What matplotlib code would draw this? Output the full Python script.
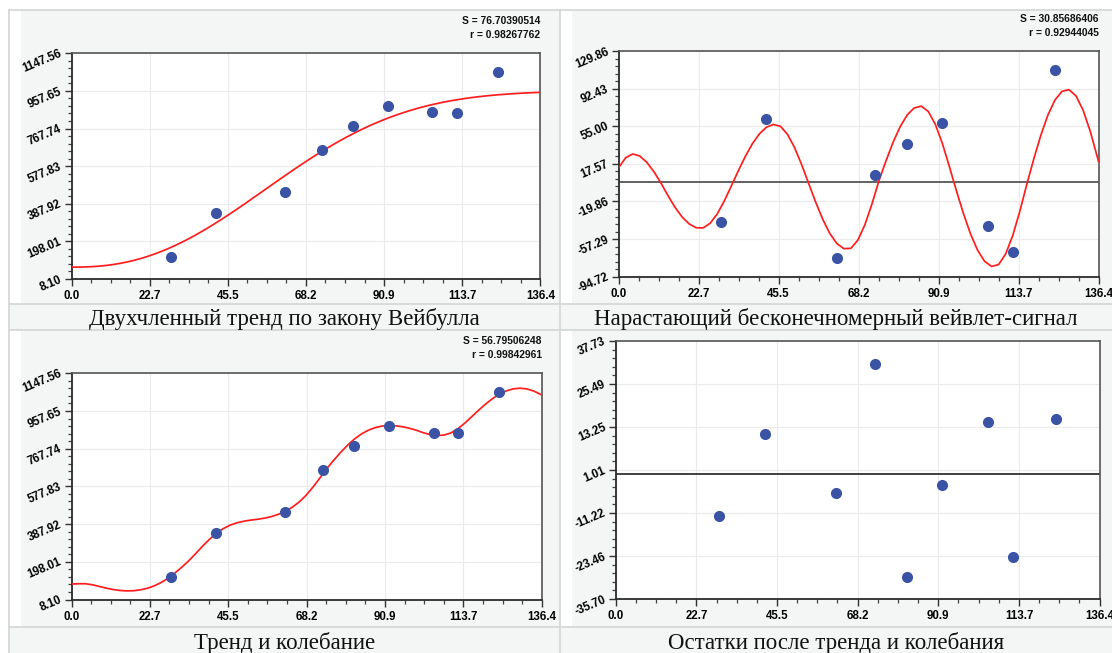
import matplotlib
matplotlib.use("Agg")
import matplotlib.pyplot as plt
from matplotlib.patches import Rectangle
from matplotlib.lines import Line2D
from matplotlib.ticker import AutoMinorLocator, FixedLocator
import numpy as np

# observed points (same x for every panel)
x_obs = [29, 42, 62, 73, 82, 92, 105, 112, 124]
y_obs = [121, 343, 449, 658, 782, 882, 849, 845, 1052]
wave_obs = [-40.0, 62.2, -76.4, 6.5, 37.0, 58.5, -44.0, -70.4, 111.0]
resid_obs = [-12.0, 11.3, -5.4, 31.2, -29.5, -3.3, 14.7, -23.8, 15.6]

# model lines, sampled every 2 units along x
curve_x = list(range(0, 137, 2)) + [136.4]

trend_y = [68.0, 68.2, 69.0, 70.5, 72.9, 76.4, 80.9, 86.6, 93.4, 101.5,
           110.9, 121.4, 133.3, 146.4, 160.6, 176.1, 192.8, 210.5, 229.3, 249.1,
           269.6, 291.1, 313.3, 336.0, 359.3, 383.0, 407.1, 431.4, 455.8, 480.2,
           504.5, 528.6, 552.6, 576.1, 599.1, 621.7, 643.7, 665.0, 685.5, 705.3,
           724.3, 742.5, 759.8, 776.2, 791.7, 806.4, 820.2, 833.0, 845.0, 856.2,
           866.5, 876.0, 884.8, 892.7, 900.1, 906.7, 912.7, 918.1, 923.1, 927.5,
           931.4, 934.9, 938.0, 940.7, 943.1, 945.3, 947.1, 948.7, 950.1, 950.2]

wave_y = [13.7, 23.6, 27.4, 25.4, 19.2, 9.9, -1.3, -13.9, -25.5, -35.1,
          -42.1, -46.0, -46.2, -41.6, -32.4, -19.6, -4.7, 10.5, 24.9, 37.5,
          47.4, 54.0, 56.8, 54.9, 46.9, 33.8, 16.9, -1.9, -20.5, -37.5,
          -51.6, -61.6, -66.8, -66.5, -58.3, -42.9, -22.3, 1.0, 20.7, 39.0,
          54.5, 66.2, 73.2, 75.0, 69.7, 56.9, 37.9, 14.8, -9.3, -31.9,
          -52.1, -68.3, -79.4, -84.5, -82.6, -72.0, -53.8, -29.8, -2.8, 22.7,
          46.2, 66.2, 81.1, 89.7, 91.4, 85.1, 70.9, 50.2, 24.9, 19.7]

fit_y = [86.0, 87.5, 87.6, 82.5, 74.1, 65.6, 58.5, 53.7, 51.4, 52.3,
         56.8, 64.7, 76.8, 93.7, 115.4, 141.4, 171.0, 203.1, 238.9, 276.5,
         311.1, 341.1, 365.1, 382.7, 394.7, 402.4, 408.1, 412.3, 417.9, 425.8,
         437.1, 452.6, 472.8, 498.6, 532.5, 573.5, 619.2, 666.6, 708.5, 748.2,
         784.3, 815.5, 841.0, 860.2, 873.4, 881.5, 884.5, 883.1, 878.3, 870.8,
         860.8, 848.4, 838.8, 834.0, 836.2, 846.8, 867.4, 895.6, 927.5, 960.5,
         991.3, 1018.7, 1041.3, 1058.2, 1068.7, 1072.6, 1069.1, 1058.6, 1041.8, 1037.8]

x_ticklabels = ["0.0", "22.7", "45.5", "68.2", "90.9", "113.7", "136.4"]
y_ticklabels_main = ["8.10", "198.01", "387.92", "577.83", "767.74", "957.65", "1147.56"]
y_ticklabels_wave = ["-94.72", "-57.29", "-19.86", "17.57", "55.00", "92.43", "129.86"]
y_ticklabels_resid = ["-35.70", "-23.46", "-11.22", "1.01", "13.25", "25.49", "37.73"]

stats_trend = ("S = 76.70390514", "r = 0.98267762")
stats_wave = ("S = 30.85686406", "r = 0.92944045")
stats_fit = ("S = 56.79506248", "r = 0.99842961")

captions = ["Двухчленный тренд по закону Вейбулла",
            "Нарастающий бесконечномерный вейвлет-сигнал",
            "Тренд и колебание",
            "Остатки после тренда и колебания"]

W, H = 1112, 653
PANEL_BG = "#f4f5f5"
BORDER = "#d3d6d6"
DOT = "#3a53a5"
LINE = "#ff1e1e"
TICK_FONT = {"family": ["Liberation Sans", "DejaVu Sans"], "weight": "bold", "size": 8.3}


def box(left, top, right, bottom):
    return [left / W, 1 - bottom / H, (right - left) / W, (bottom - top) / H]


fig = plt.figure(figsize=(W / 100, H / 100), dpi=100)
fig.patch.set_facecolor("white")


def rect(left, top, right, bottom, color):
    fig.add_artist(Rectangle((left / W, 1 - bottom / H), (right - left) / W,
                             (bottom - top) / H, transform=fig.transFigure,
                             facecolor=color, edgecolor="none", zorder=-10))


def hline(y, x0, x1):
    fig.add_artist(Line2D([x0 / W, x1 / W], [1 - y / H, 1 - y / H],
                          transform=fig.transFigure, color=BORDER, lw=1.2, zorder=-5))


def vline(x, y0, y1):
    fig.add_artist(Line2D([x / W, x / W], [1 - y0 / H, 1 - y1 / H],
                          transform=fig.transFigure, color=BORDER, lw=1.2, zorder=-5))


# panel backgrounds, caption bands and frame lines
for x0, x1 in [(9, 560), (560, 1112)]:
    for y0, y1, y2 in [(10, 304, 330), (330, 627, 653)]:
        rect(x0 + 12, y0, x1, y1, PANEL_BG)
        rect(x0, y1, x1, y2, PANEL_BG)
for y in (10, 304, 330, 627):
    hline(y, 9, 1112)
vline(9, 10, 653)
vline(560, 10, 653)


def style_axes(ax, ylo, yhi, ylabels):
    ax.set_facecolor("white")
    ax.set_xlim(0, 136.4)
    ax.set_ylim(ylo, yhi)
    xt = np.linspace(0, 136.4, len(x_ticklabels))
    yt = np.linspace(ylo, yhi, len(ylabels))
    ax.xaxis.set_major_locator(FixedLocator(xt))
    ax.yaxis.set_major_locator(FixedLocator(yt))
    ax.set_xticklabels(x_ticklabels, fontdict=TICK_FONT)
    ax.set_yticklabels(ylabels, fontdict=TICK_FONT, rotation=23,
                       ha="right", va="center", rotation_mode="anchor")
    ax.xaxis.set_minor_locator(AutoMinorLocator(4))
    ax.yaxis.set_minor_locator(AutoMinorLocator(5))
    ax.tick_params(which="major", direction="out", length=5, width=1.0,
                   color="#333333", pad=3)
    ax.tick_params(axis="y", which="major", pad=2.5)
    ax.tick_params(which="minor", direction="out", length=3, width=0.9,
                   color="#444444")
    ax.grid(True, which="major", color="#ebebeb", lw=0.8, zorder=0)
    for side in ("left", "bottom"):
        ax.spines[side].set_color("#2b2b2b")
        ax.spines[side].set_linewidth(1.3)
    for side in ("top", "right"):
        ax.spines[side].set_color("#555555")
        ax.spines[side].set_linewidth(1.2)
    ax.set_axisbelow(True)


def stats(ax, lines):
    for text, off in zip(lines, (29, 15)):
        ax.annotate(text, xy=(1, 1), xycoords="axes fraction",
                    xytext=(0, off), textcoords="offset pixels",
                    ha="right", va="baseline",
                    family=["Liberation Sans", "DejaVu Sans"],
                    weight="bold", size=7.4, color="#111111")


def dots(ax, ys):
    ax.plot(x_obs, ys, linestyle="none", marker="o", ms=7,
            mfc=DOT, mec=DOT, zorder=4, clip_on=False)


# 1: Weibull trend
ax1 = fig.add_axes(box(71.5, 53.3, 540.4, 279))
style_axes(ax1, 8.10, 1147.56, y_ticklabels_main)
ax1.plot(curve_x, trend_y, color=LINE, lw=1.25, zorder=3)
dots(ax1, y_obs)
stats(ax1, stats_trend)

# 2: wavelet signal
ax2 = fig.add_axes(box(618.6, 51, 1098.6, 276.7))
style_axes(ax2, -94.72, 129.86, y_ticklabels_wave)
ax2.axhline(0, color="#555555", lw=1.3, zorder=2)
ax2.plot(curve_x, wave_y, color=LINE, lw=1.25, zorder=3)
dots(ax2, wave_obs)
stats(ax2, stats_wave)

# 3: trend plus oscillation
ax3 = fig.add_axes(box(71.5, 373.3, 541.8, 599.5))
style_axes(ax3, 8.10, 1147.56, y_ticklabels_main)
ax3.plot(curve_x, fit_y, color=LINE, lw=1.25, zorder=3)
dots(ax3, y_obs)
stats(ax3, stats_fit)

# 4: residuals
ax4 = fig.add_axes(box(615.7, 341, 1099.6, 599))
style_axes(ax4, -35.70, 37.73, y_ticklabels_resid)
ax4.axhline(0, color="#333333", lw=1.3, zorder=2)
dots(ax4, resid_obs)

# captions under each panel
cap_font = dict(family=["Liberation Serif", "DejaVu Serif"], size=16.5, color="#111111")
for text, (cx, cy) in zip(captions, [(284.5, 325), (836, 325), (284.5, 648.5), (836, 648.5)]):
    fig.text(cx / W, 1 - cy / H, text, ha="center", va="baseline", **cap_font)

fig.savefig("out.png", dpi=100)
